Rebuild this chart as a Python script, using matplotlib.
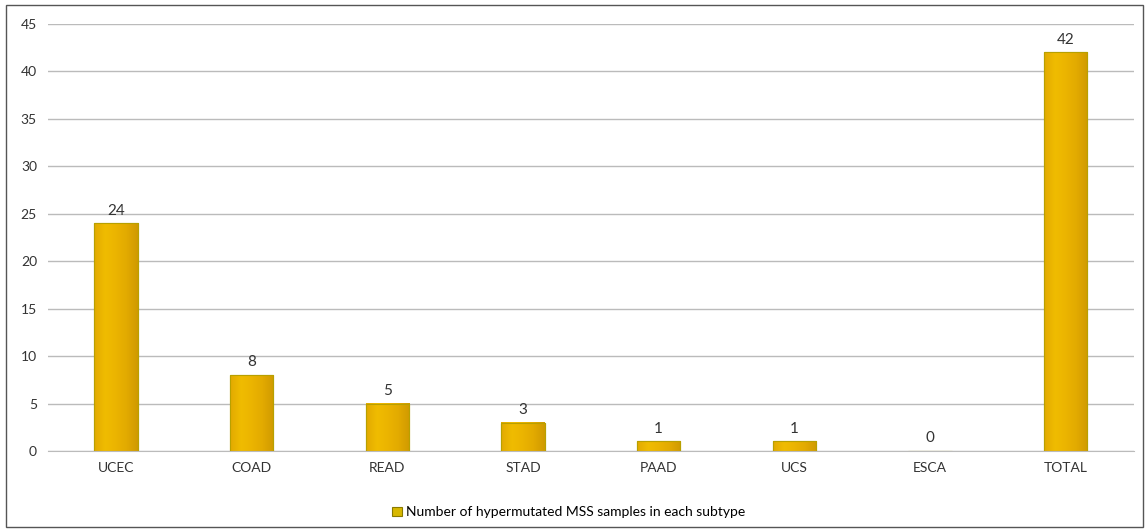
import numpy as np
import matplotlib.pyplot as plt
from matplotlib.patches import Rectangle
from matplotlib.colors import LinearSegmentedColormap

subtypes = ["UCEC", "COAD", "READ", "STAD", "PAAD", "UCS", "ESCA", "TOTAL"]
counts = [24, 8, 5, 3, 1, 1, 0, 42]
yticks = [0, 5, 10, 15, 20, 25, 30, 35, 40, 45]

plt.rcParams['font.family'] = ['Lato', 'DejaVu Sans']

fig = plt.figure(figsize=(11.45, 5.31), dpi=100)
ax = fig.add_axes([0.042, 0.1507, 0.948, 0.8041])

# outer frame around the whole chart
fig.patches.append(Rectangle((0.005, 0.007), 0.993, 0.984, transform=fig.transFigure,
                             fill=False, edgecolor='#555555', linewidth=1.0))

x = np.arange(len(subtypes))
width = 0.32

# soft cylinder shading across each bar
gold = LinearSegmentedColormap.from_list(
    'gold', ['#E2AA00', '#F0BC00', '#EBB400', '#E2AA00', '#D09A00'])
grad = np.linspace(0, 1, 64).reshape(1, -1)

bars = ax.bar(x, counts, width=width, color='#E8B000', edgecolor='#B8A000',
              linewidth=0.8, zorder=2, label='Number of hypermutated MSS samples in each subtype')
for b in bars:
    h = b.get_height()
    if h <= 0:
        continue
    x0 = b.get_x()
    ax.imshow(grad, cmap=gold, aspect='auto', zorder=2.5,
              extent=(x0, x0 + b.get_width(), 0, h), interpolation='bicubic')
    ax.add_patch(Rectangle((x0, 0), b.get_width(), h, fill=False,
                           edgecolor='#B8A000', linewidth=0.8, zorder=3))

for xi, c in zip(x, counts):
    ax.text(xi, c + 0.6, str(c), ha='center', va='bottom', fontsize=11, color='#333333')

ax.set_xlim(-0.5, len(subtypes) - 0.5)
ax.set_ylim(0, 45)
ax.set_yticks(yticks)
ax.set_xticks(x)
ax.set_xticklabels(subtypes)
ax.yaxis.grid(True, color='#BBBBBB', linewidth=1.0, zorder=0)
ax.set_axisbelow(True)
for s in ['top', 'right', 'left']:
    ax.spines[s].set_visible(False)
ax.spines['bottom'].set_color('#BBBBBB')
ax.tick_params(axis='both', length=0, labelsize=10, colors='#333333', pad=8)

handle = Rectangle((0, 0), 1, 1, facecolor='#D8B800', edgecolor='#8A7A00', linewidth=0.8)
fig.legend([handle], ['Number of hypermutated MSS samples in each subtype'],
           loc='center', bbox_to_anchor=(0.497, 0.035), frameon=False, fontsize=10,
           handlelength=0.7, handleheight=0.7, handletextpad=0.3)

fig.savefig('out.png', dpi=100)
